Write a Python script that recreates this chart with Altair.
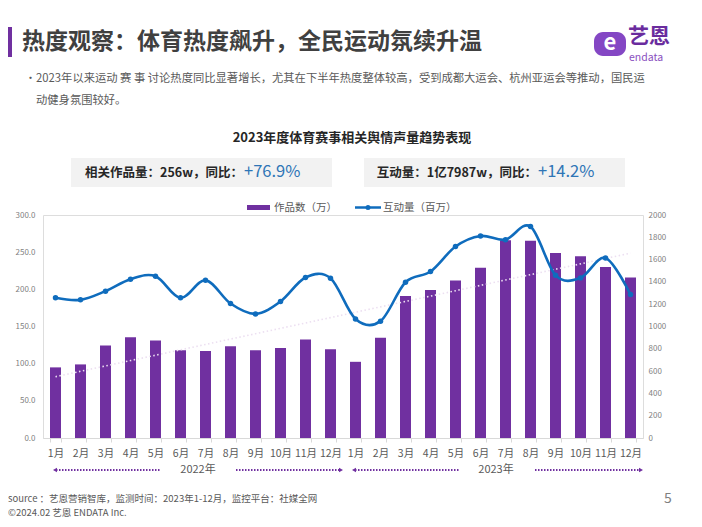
import altair as alt
import pandas as pd
import numpy as np

FONT = "Noto Sans CJK SC"

years = ["2022", "2023"]
months = ["1月", "2月", "3月", "4月", "5月", "6月", "7月", "8月", "9月", "10月", "11月", "12月"]
works = [95, 99, 124.5, 135.5, 131, 118, 117, 123.5, 118, 121, 132.5, 119.5,
         102.5, 135, 191, 199, 212, 229, 266, 265.5, 249, 244.5, 230, 216]
interact = [1257, 1239, 1317, 1424, 1451, 1257, 1415, 1206, 1113, 1224, 1439, 1433,
            1068, 1048, 1397, 1493, 1717, 1812, 1779, 1896, 1460, 1436, 1615, 1287]
left_ticks = [0, 50, 100, 150, 200, 250, 300]
right_ticks = [0, 200, 400, 600, 800, 1000, 1200, 1400, 1600, 1800, 2000]

keys = [f"{y}-{m}" for y in years for m in months]
idx = np.arange(len(works))
slope, icpt = np.polyfit(idx, np.array(works, dtype=float), 1)
df = pd.DataFrame({"key": keys, "works": works, "interact": interact,
                   "trend": icpt + slope * idx})

PURPLE = "#7030a0"
BLUE = "#0f6cbd"

xenc = alt.X("key:N", sort=keys,
             scale=alt.Scale(paddingInner=0.56, paddingOuter=0.28),
             axis=alt.Axis(title=None, labelAngle=0,
                           labelExpr="split(datum.value, '-')[1]",
                           labelFontSize=10.5, labelColor="#595959", labelFont=FONT,
                           labelPadding=6, domainColor="#d9d9d9", tickColor="#d9d9d9",
                           tickSize=4, tickBand="extent", grid=False))

left_scale = alt.Scale(domain=[0, 300])
bars = alt.Chart(df).mark_bar(color=PURPLE).encode(
    x=xenc,
    y=alt.Y("works:Q", scale=left_scale,
            axis=alt.Axis(title=None, values=left_ticks, format=".1f", domain=False,
                          ticks=False, grid=False, labelFontSize=8, labelColor="#7f7f7f",
                          labelPadding=8, labelFont=FONT)))
trend = alt.Chart(df).mark_line(color="#ecdff1", strokeDash=[1.5, 2.5], strokeWidth=1.6).encode(
    x=xenc, y=alt.Y("trend:Q", scale=left_scale, axis=None))
line = alt.Chart(df).mark_line(
    interpolate="cardinal", color=BLUE, strokeWidth=2.6,
    point=alt.OverlayMarkDef(filled=True, size=30, color=BLUE)).encode(
    x=xenc,
    y=alt.Y("interact:Q", scale=alt.Scale(domain=[0, 2000]),
            axis=alt.Axis(title=None, orient="right", values=right_ticks, format="d",
                          domain=False, ticks=False, grid=False, labelFontSize=8,
                          labelColor="#7f7f7f", labelPadding=5, labelFont=FONT)))

# plot origin in page pixels
OX, OY = 43, 215


def txt(s, X, Y, size=11, color="#595959", weight="normal", align="left", baseline="middle"):
    return alt.Chart(pd.DataFrame({"t": [s]})).mark_text(
        fontSize=size, color=color, fontWeight=weight, align=align, baseline=baseline,
        font=FONT).encode(text="t:N", x=alt.value(X - OX), y=alt.value(Y - OY))


def rect(X1, X2, Y1, Y2, color, radius=0):
    return alt.Chart(pd.DataFrame({"a": [0]})).mark_rect(color=color, cornerRadius=radius).encode(
        x=alt.value(X1 - OX), x2=alt.value(X2 - OX), y=alt.value(Y1 - OY), y2=alt.value(Y2 - OY))


def rule(X1, X2, Y, color, width=2, dash=None):
    kw = dict(color=color, strokeWidth=width)
    if dash:
        kw["strokeDash"] = dash
    return alt.Chart(pd.DataFrame({"a": [0]})).mark_rule(**kw).encode(
        x=alt.value(X1 - OX), x2=alt.value(X2 - OX), y=alt.value(Y - OY))


def pt(X, Y, shape, color, size=30):
    return alt.Chart(pd.DataFrame({"a": [0]})).mark_point(
        shape=shape, filled=True, color=color, size=size, opacity=1).encode(
        x=alt.value(X - OX), y=alt.value(Y - OY))


ann = [
    rect(8, 12, 27, 57, PURPLE),
    txt("热度观察：体育热度飙升，全民运动氛续升温", 22, 42, size=23, color="#404040", weight="bold"),
    rect(594, 626, 32, 56, "#8447c4", radius=9),
    txt("e", 610, 43, size=22, color="white", weight="bold", align="center"),
    txt("艺恩", 628, 37, size=21, color="#6a2c9e", weight="bold"),
    txt("endata", 629, 58, size=10.5, color="#8a4fc0"),
    txt("•", 25, 79, size=11),
    txt("2023年以来运动 赛 事 讨论热度同比显著增长，尤其在下半年热度整体较高，受到成都大运会、杭州亚运会等推动，国民运",
        36, 79, size=11.3),
    txt("动健身氛围较好。", 36, 101, size=11.3),
    txt("2023年度体育赛事相关舆情声量趋势表现", 352, 138, size=13, color="#262626",
        weight="bold", align="center"),
    rect(71, 332, 158, 187, "#f2f2f2"),
    rect(364, 625, 158, 187, "#f2f2f2"),
    txt("相关作品量：256w，同比：", 243, 173, size=12.5, color="#262626", weight="bold", align="right"),
    txt("+76.9%", 244, 172, size=16.5, color="#2e75b6"),
    txt("互动量：1亿7987w，同比：", 537, 173, size=12.5, color="#262626", weight="bold", align="right"),
    txt("+14.2%", 538, 172, size=16.5, color="#2e75b6"),
    rect(247, 270, 205, 210, PURPLE),
    txt("作品数（万）", 274, 207.5, size=10.5),
    rule(355, 381, 207.5, BLUE, width=2.5),
    pt(368, 207.5, "circle", BLUE, size=25),
    txt("互动量（百万）", 383, 207.5, size=10.5),
    rule(56, 160, 470, PURPLE, width=2, dash=[1.5, 1.5]),
    rule(236, 340, 470, PURPLE, width=2, dash=[1.5, 1.5]),
    pt(55, 470, "triangle-left", PURPLE, size=22),
    pt(341, 470, "triangle-right", PURPLE, size=22),
    txt("2022年", 198, 470, size=11, align="center"),
    rule(355, 459, 470, PURPLE, width=2, dash=[1.5, 1.5]),
    rule(535, 640, 470, PURPLE, width=2, dash=[1.5, 1.5]),
    pt(354, 470, "triangle-left", PURPLE, size=22),
    pt(641, 470, "triangle-right", PURPLE, size=22),
    txt("2023年", 496, 470, size=11, align="center"),
    txt("source ：艺恩营销智库，监测时间：2023年1-12月，监控平台：社媒全网", 8, 499, size=9.5),
    txt("©2024.02  艺恩 ENDATA Inc.", 8, 513, size=9.5),
    txt("5", 668, 499, size=14, color="#7f7f7f", align="center"),
]

chart = alt.layer(bars, trend, line, *ann).resolve_scale(y="independent").properties(
    width=600, height=223,
    padding={"left": 35, "top": 207, "right": 51, "bottom": 81},
    autosize=alt.AutoSizeParams(type="none"),
).configure_view(stroke=None).configure(font=FONT, background="white")

chart.save("out.html", embed_options={"renderer": "svg", "actions": False})
